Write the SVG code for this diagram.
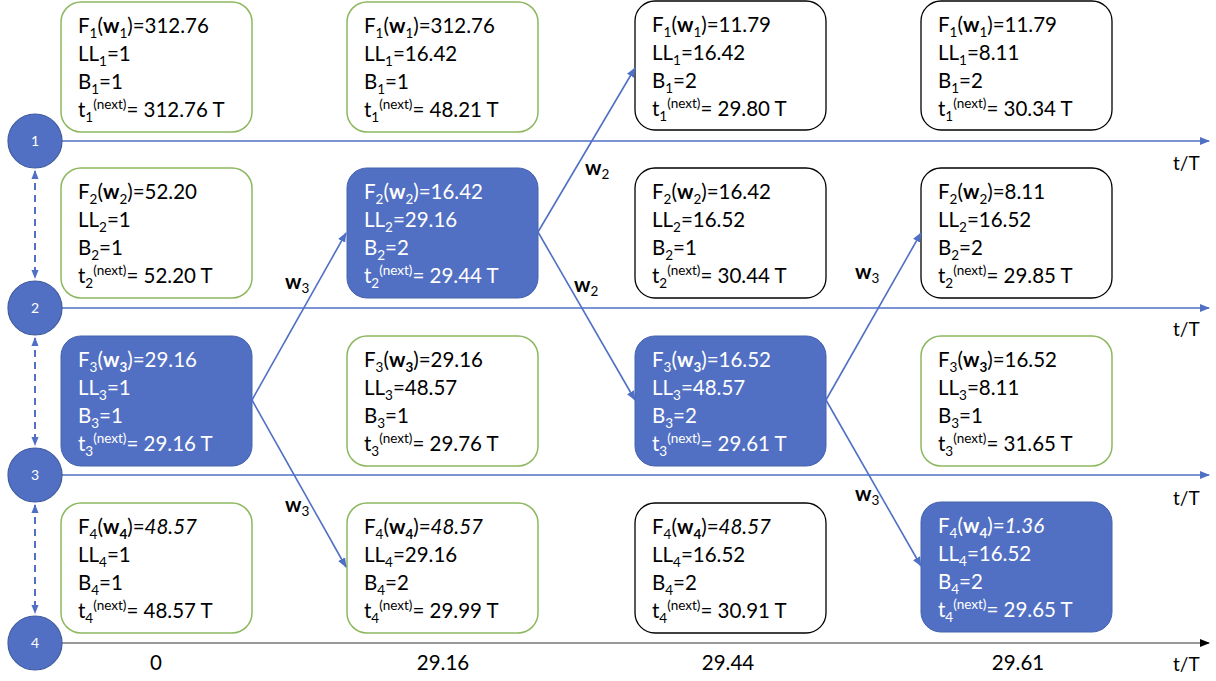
<svg xmlns="http://www.w3.org/2000/svg" width="1216" height="681" viewBox="0 0 1216 681">
  <style>
    text { font-family: Lato, "Open Sans", "Liberation Sans", sans-serif; font-size: 20.5px; fill: #000; }
    .inv text, text.inv { fill: #fff; }
    .sb { font-size: 13.5px; }
    .sp { font-size: 13.5px; }
    .b { font-weight: bold; }
    .i { font-style: italic; }
    .box-g { fill: #fff; stroke: #8DB860; stroke-width: 1.5; }
    .box-k { fill: #fff; stroke: #000; stroke-width: 1.3; }
    .box-f { fill: #5270C3; stroke: #4462AE; stroke-width: 1; }
    .node { fill: #5270C3; stroke: #3F5C9F; stroke-width: 1.2; }
    .num { font-size: 14px; fill: #fff; text-anchor: middle; }
    .axis { stroke: #4F70C4; stroke-width: 1.5; fill: none; }
    .axis0 { stroke: #777; stroke-width: 1.5; fill: none; }
    .edge { stroke: #4F70C4; stroke-width: 1.6; fill: none; }
    .dash { stroke: #4F70C4; stroke-width: 2; stroke-dasharray: 7 5; fill: none; }
    .lbl { font-size: 20.5px; }
    .tt { font-size: 19px; }
  </style>
  <defs>
    <marker id="ah" viewBox="0 0 10 10" refX="9" refY="5" markerWidth="10" markerHeight="10" markerUnits="userSpaceOnUse" orient="auto">
      <path d="M0,1 L10,5 L0,9 z" fill="#4F70C4"/>
    </marker>
    <marker id="ahk" viewBox="0 0 10 10" refX="9" refY="5" markerWidth="10" markerHeight="10" markerUnits="userSpaceOnUse" orient="auto">
      <path d="M0,1 L10,5 L0,9 z" fill="#000"/>
    </marker>
    <marker id="ahd" viewBox="0 0 10 10" refX="9" refY="5" markerWidth="9" markerHeight="9" markerUnits="userSpaceOnUse" orient="auto-start-reverse">
      <path d="M0,1 L10,5 L0,9 z" fill="#4F70C4"/>
    </marker>
  </defs>

  <!-- time axes, one per node -->
  <g id="axes">
    <line class="axis" x1="62" y1="141" x2="1209" y2="141" marker-end="url(#ah)"/>
    <line class="axis" x1="62" y1="308" x2="1209" y2="308" marker-end="url(#ah)"/>
    <line class="axis" x1="62" y1="475" x2="1209" y2="475" marker-end="url(#ah)"/>
    <line class="axis0" x1="62" y1="643" x2="1209" y2="643" marker-end="url(#ahk)"/>
    <text class="tt" x="1173" y="170">t/T</text>
    <text class="tt" x="1173" y="336">t/T</text>
    <text class="tt" x="1173" y="505">t/T</text>
    <text class="tt" x="1173" y="671">t/T</text>
    <text x="156" y="670" text-anchor="middle">0</text>
    <text x="443" y="670" text-anchor="middle">29.16</text>
    <text x="728" y="670" text-anchor="middle">29.44</text>
    <text x="1018" y="670" text-anchor="middle">29.61</text>
  </g>

  <!-- links between neighbouring nodes -->
  <g id="links">
    <line class="dash" x1="35" y1="171" x2="35" y2="278" marker-start="url(#ahd)" marker-end="url(#ahd)"/>
    <line class="dash" x1="35" y1="338" x2="35" y2="445" marker-start="url(#ahd)" marker-end="url(#ahd)"/>
    <line class="dash" x1="35" y1="505" x2="35" y2="613" marker-start="url(#ahd)" marker-end="url(#ahd)"/>
  </g>

  <!-- nodes -->
  <g id="node1"><circle class="node" cx="35" cy="141" r="27"/><text class="num" x="35" y="146">1</text></g>
  <g id="node2"><circle class="node" cx="35" cy="308" r="27"/><text class="num" x="35" y="313">2</text></g>
  <g id="node3"><circle class="node" cx="35" cy="475" r="27"/><text class="num" x="35" y="480">3</text></g>
  <g id="node4"><circle class="node" cx="35" cy="643" r="27"/><text class="num" x="35" y="648">4</text></g>

  <!-- state boxes: column t=0 -->
  <g id="s0-1">
    <rect class="box-g" x="61" y="2" width="191" height="130" rx="20"/>
    <text x="78" y="33">F<tspan class="sb" dy="5">1</tspan><tspan dy="-5">(</tspan><tspan class="b">w</tspan><tspan class="sb" dy="5">1</tspan><tspan dy="-5">)=312.76</tspan></text>
    <text x="78" y="61">LL<tspan class="sb" dy="5">1</tspan><tspan dy="-5">=1</tspan></text>
    <text x="78" y="89">B<tspan class="sb" dy="5">1</tspan><tspan dy="-5">=1</tspan></text>
    <text x="78" y="117">t<tspan class="sb" dy="5">1</tspan><tspan class="sp" dy="-13">(next)</tspan><tspan dy="8">= 312.76 T</tspan></text>
  </g>
  <g id="s0-2">
    <rect class="box-g" x="61" y="168" width="191" height="130" rx="20"/>
    <text x="78" y="199">F<tspan class="sb" dy="5">2</tspan><tspan dy="-5">(</tspan><tspan class="b">w</tspan><tspan class="sb" dy="5">2</tspan><tspan dy="-5">)=52.20</tspan></text>
    <text x="78" y="227">LL<tspan class="sb" dy="5">2</tspan><tspan dy="-5">=1</tspan></text>
    <text x="78" y="255">B<tspan class="sb" dy="5">2</tspan><tspan dy="-5">=1</tspan></text>
    <text x="78" y="283">t<tspan class="sb" dy="5">2</tspan><tspan class="sp" dy="-13">(next)</tspan><tspan dy="8">= 52.20 T</tspan></text>
  </g>
  <g id="s0-3" class="inv">
    <rect class="box-f" x="61" y="336" width="191" height="130" rx="20"/>
    <text x="78" y="367">F<tspan class="sb" dy="5">3</tspan><tspan dy="-5">(</tspan><tspan class="b">w</tspan><tspan class="sb b" dy="5">3</tspan><tspan dy="-5">)=29.16</tspan></text>
    <text x="78" y="395">LL<tspan class="sb" dy="5">3</tspan><tspan dy="-5">=1</tspan></text>
    <text x="78" y="423">B<tspan class="sb" dy="5">3</tspan><tspan dy="-5">=1</tspan></text>
    <text x="78" y="451">t<tspan class="sb" dy="5">3</tspan><tspan class="sp" dy="-13">(next)</tspan><tspan dy="8">= 29.16 T</tspan></text>
  </g>
  <g id="s0-4">
    <rect class="box-g" x="61" y="503" width="191" height="130" rx="20"/>
    <text x="78" y="534">F<tspan class="sb" dy="5">4</tspan><tspan dy="-5">(</tspan><tspan class="b">w</tspan><tspan class="sb b" dy="5">4</tspan><tspan dy="-5">)=</tspan><tspan class="i">48.57</tspan></text>
    <text x="78" y="562">LL<tspan class="sb" dy="5">4</tspan><tspan dy="-5">=1</tspan></text>
    <text x="78" y="590">B<tspan class="sb" dy="5">4</tspan><tspan dy="-5">=1</tspan></text>
    <text x="78" y="618">t<tspan class="sb" dy="5">4</tspan><tspan class="sp" dy="-13">(next)</tspan><tspan dy="8">= 48.57 T</tspan></text>
  </g>

  <!-- column t=29.16 -->
  <g id="s1-1">
    <rect class="box-g" x="347" y="2" width="191" height="130" rx="20"/>
    <text x="364" y="33">F<tspan class="sb" dy="5">1</tspan><tspan dy="-5">(</tspan><tspan class="b">w</tspan><tspan class="sb" dy="5">1</tspan><tspan dy="-5">)=312.76</tspan></text>
    <text x="364" y="61">LL<tspan class="sb" dy="5">1</tspan><tspan dy="-5">=16.42</tspan></text>
    <text x="364" y="89">B<tspan class="sb" dy="5">1</tspan><tspan dy="-5">=1</tspan></text>
    <text x="364" y="117">t<tspan class="sb" dy="5">1</tspan><tspan class="sp" dy="-13">(next)</tspan><tspan dy="8">= 48.21 T</tspan></text>
  </g>
  <g id="s1-2" class="inv">
    <rect class="box-f" x="347" y="168" width="191" height="130" rx="20"/>
    <text x="364" y="199">F<tspan class="sb" dy="5">2</tspan><tspan dy="-5">(</tspan><tspan class="b">w</tspan><tspan class="sb" dy="5">2</tspan><tspan dy="-5">)=16.42</tspan></text>
    <text x="364" y="227">LL<tspan class="sb" dy="5">2</tspan><tspan dy="-5">=29.16</tspan></text>
    <text x="364" y="255">B<tspan class="sb" dy="5">2</tspan><tspan dy="-5">=2</tspan></text>
    <text x="364" y="283">t<tspan class="sb" dy="5">2</tspan><tspan class="sp" dy="-13">(next)</tspan><tspan dy="8">= 29.44 T</tspan></text>
  </g>
  <g id="s1-3">
    <rect class="box-g" x="347" y="336" width="191" height="130" rx="20"/>
    <text x="364" y="367">F<tspan class="sb" dy="5">3</tspan><tspan dy="-5">(</tspan><tspan class="b">w</tspan><tspan class="sb b" dy="5">3</tspan><tspan dy="-5">)=29.16</tspan></text>
    <text x="364" y="395">LL<tspan class="sb" dy="5">3</tspan><tspan dy="-5">=48.57</tspan></text>
    <text x="364" y="423">B<tspan class="sb" dy="5">3</tspan><tspan dy="-5">=1</tspan></text>
    <text x="364" y="451">t<tspan class="sb" dy="5">3</tspan><tspan class="sp" dy="-13">(next)</tspan><tspan dy="8">= 29.76 T</tspan></text>
  </g>
  <g id="s1-4">
    <rect class="box-g" x="347" y="503" width="191" height="130" rx="20"/>
    <text x="364" y="534">F<tspan class="sb" dy="5">4</tspan><tspan dy="-5">(</tspan><tspan class="b">w</tspan><tspan class="sb b" dy="5">4</tspan><tspan dy="-5">)=</tspan><tspan class="i">48.57</tspan></text>
    <text x="364" y="562">LL<tspan class="sb" dy="5">4</tspan><tspan dy="-5">=29.16</tspan></text>
    <text x="364" y="590">B<tspan class="sb" dy="5">4</tspan><tspan dy="-5">=2</tspan></text>
    <text x="364" y="618">t<tspan class="sb" dy="5">4</tspan><tspan class="sp" dy="-13">(next)</tspan><tspan dy="8">= 29.99 T</tspan></text>
  </g>

  <!-- column t=29.44 -->
  <g id="s2-1">
    <rect class="box-k" x="635" y="1" width="191" height="129" rx="20"/>
    <text x="652" y="32">F<tspan class="sb" dy="5">1</tspan><tspan dy="-5">(</tspan><tspan class="b">w</tspan><tspan class="sb" dy="5">1</tspan><tspan dy="-5">)=11.79</tspan></text>
    <text x="652" y="60">LL<tspan class="sb" dy="5">1</tspan><tspan dy="-5">=16.42</tspan></text>
    <text x="652" y="88">B<tspan class="sb" dy="5">1</tspan><tspan dy="-5">=2</tspan></text>
    <text x="652" y="116">t<tspan class="sb" dy="5">1</tspan><tspan class="sp" dy="-13">(next)</tspan><tspan dy="8">= 29.80 T</tspan></text>
  </g>
  <g id="s2-2">
    <rect class="box-k" x="635" y="168" width="191" height="130" rx="20"/>
    <text x="652" y="199">F<tspan class="sb" dy="5">2</tspan><tspan dy="-5">(</tspan><tspan class="b">w</tspan><tspan class="sb" dy="5">2</tspan><tspan dy="-5">)=16.42</tspan></text>
    <text x="652" y="227">LL<tspan class="sb" dy="5">2</tspan><tspan dy="-5">=16.52</tspan></text>
    <text x="652" y="255">B<tspan class="sb" dy="5">2</tspan><tspan dy="-5">=1</tspan></text>
    <text x="652" y="283">t<tspan class="sb" dy="5">2</tspan><tspan class="sp" dy="-13">(next)</tspan><tspan dy="8">= 30.44 T</tspan></text>
  </g>
  <g id="s2-3" class="inv">
    <rect class="box-f" x="635" y="336" width="191" height="130" rx="20"/>
    <text x="652" y="367">F<tspan class="sb" dy="5">3</tspan><tspan dy="-5">(</tspan><tspan class="b">w</tspan><tspan class="sb b" dy="5">3</tspan><tspan dy="-5">)=16.52</tspan></text>
    <text x="652" y="395">LL<tspan class="sb" dy="5">3</tspan><tspan dy="-5">=48.57</tspan></text>
    <text x="652" y="423">B<tspan class="sb" dy="5">3</tspan><tspan dy="-5">=2</tspan></text>
    <text x="652" y="451">t<tspan class="sb" dy="5">3</tspan><tspan class="sp" dy="-13">(next)</tspan><tspan dy="8">= 29.61 T</tspan></text>
  </g>
  <g id="s2-4">
    <rect class="box-k" x="635" y="503" width="191" height="130" rx="20"/>
    <text x="652" y="534">F<tspan class="sb" dy="5">4</tspan><tspan dy="-5">(</tspan><tspan class="b">w</tspan><tspan class="sb b" dy="5">4</tspan><tspan dy="-5">)=</tspan><tspan class="i">48.57</tspan></text>
    <text x="652" y="562">LL<tspan class="sb" dy="5">4</tspan><tspan dy="-5">=16.52</tspan></text>
    <text x="652" y="590">B<tspan class="sb" dy="5">4</tspan><tspan dy="-5">=2</tspan></text>
    <text x="652" y="618">t<tspan class="sb" dy="5">4</tspan><tspan class="sp" dy="-13">(next)</tspan><tspan dy="8">= 30.91 T</tspan></text>
  </g>

  <!-- column t=29.61 -->
  <g id="s3-1">
    <rect class="box-k" x="921" y="1" width="191" height="129" rx="20"/>
    <text x="938" y="32">F<tspan class="sb" dy="5">1</tspan><tspan dy="-5">(</tspan><tspan class="b">w</tspan><tspan class="sb" dy="5">1</tspan><tspan dy="-5">)=11.79</tspan></text>
    <text x="938" y="60">LL<tspan class="sb" dy="5">1</tspan><tspan dy="-5">=8.11</tspan></text>
    <text x="938" y="88">B<tspan class="sb" dy="5">1</tspan><tspan dy="-5">=2</tspan></text>
    <text x="938" y="116">t<tspan class="sb" dy="5">1</tspan><tspan class="sp" dy="-13">(next)</tspan><tspan dy="8">= 30.34 T</tspan></text>
  </g>
  <g id="s3-2">
    <rect class="box-k" x="921" y="168" width="191" height="130" rx="20"/>
    <text x="938" y="199">F<tspan class="sb" dy="5">2</tspan><tspan dy="-5">(</tspan><tspan class="b">w</tspan><tspan class="sb" dy="5">2</tspan><tspan dy="-5">)=8.11</tspan></text>
    <text x="938" y="227">LL<tspan class="sb" dy="5">2</tspan><tspan dy="-5">=16.52</tspan></text>
    <text x="938" y="255">B<tspan class="sb" dy="5">2</tspan><tspan dy="-5">=2</tspan></text>
    <text x="938" y="283">t<tspan class="sb" dy="5">2</tspan><tspan class="sp" dy="-13">(next)</tspan><tspan dy="8">= 29.85 T</tspan></text>
  </g>
  <g id="s3-3">
    <rect class="box-g" x="921" y="336" width="191" height="130" rx="20"/>
    <text x="938" y="367">F<tspan class="sb" dy="5">3</tspan><tspan dy="-5">(</tspan><tspan class="b">w</tspan><tspan class="sb b" dy="5">3</tspan><tspan dy="-5">)=16.52</tspan></text>
    <text x="938" y="395">LL<tspan class="sb" dy="5">3</tspan><tspan dy="-5">=8.11</tspan></text>
    <text x="938" y="423">B<tspan class="sb" dy="5">3</tspan><tspan dy="-5">=1</tspan></text>
    <text x="938" y="451">t<tspan class="sb" dy="5">3</tspan><tspan class="sp" dy="-13">(next)</tspan><tspan dy="8">= 31.65 T</tspan></text>
  </g>
  <g id="s3-4" class="inv">
    <rect class="box-f" x="921" y="502" width="191" height="130" rx="20"/>
    <text x="938" y="533">F<tspan class="sb" dy="5">4</tspan><tspan dy="-5">(</tspan><tspan class="b">w</tspan><tspan class="sb b" dy="5">4</tspan><tspan dy="-5">)=</tspan><tspan class="i">1.36</tspan></text>
    <text x="938" y="561">LL<tspan class="sb" dy="5">4</tspan><tspan dy="-5">=16.52</tspan></text>
    <text x="938" y="589">B<tspan class="sb" dy="5">4</tspan><tspan dy="-5">=2</tspan></text>
    <text x="938" y="617">t<tspan class="sb" dy="5">4</tspan><tspan class="sp" dy="-13">(next)</tspan><tspan dy="8">= 29.65 T</tspan></text>
  </g>

  <!-- transfers of workload between states -->
  <g id="connectors">
    <line class="edge" x1="252" y1="400" x2="346" y2="233" marker-end="url(#ah)"/>
    <line class="edge" x1="252" y1="400" x2="346" y2="567" marker-end="url(#ah)"/>
    <line class="edge" x1="538" y1="232" x2="635" y2="68" marker-end="url(#ah)"/>
    <line class="edge" x1="538" y1="232" x2="635" y2="400" marker-end="url(#ah)"/>
    <line class="edge" x1="826" y1="400" x2="921" y2="233" marker-end="url(#ah)"/>
    <line class="edge" x1="826" y1="400" x2="921" y2="566" marker-end="url(#ah)"/>
    <text class="lbl" x="285" y="289"><tspan class="b">w</tspan><tspan class="sb" dy="4">3</tspan></text>
    <text class="lbl" x="285" y="512"><tspan class="b">w</tspan><tspan class="sb" dy="4">3</tspan></text>
    <text class="lbl" x="585" y="175"><tspan class="b">w</tspan><tspan class="sb" dy="4">2</tspan></text>
    <text class="lbl" x="574" y="292"><tspan class="b">w</tspan><tspan class="sb" dy="4">2</tspan></text>
    <text class="lbl" x="855" y="279"><tspan class="b">w</tspan><tspan class="sb" dy="4">3</tspan></text>
    <text class="lbl" x="855" y="501"><tspan class="b">w</tspan><tspan class="sb" dy="4">3</tspan></text>
  </g>
</svg>
